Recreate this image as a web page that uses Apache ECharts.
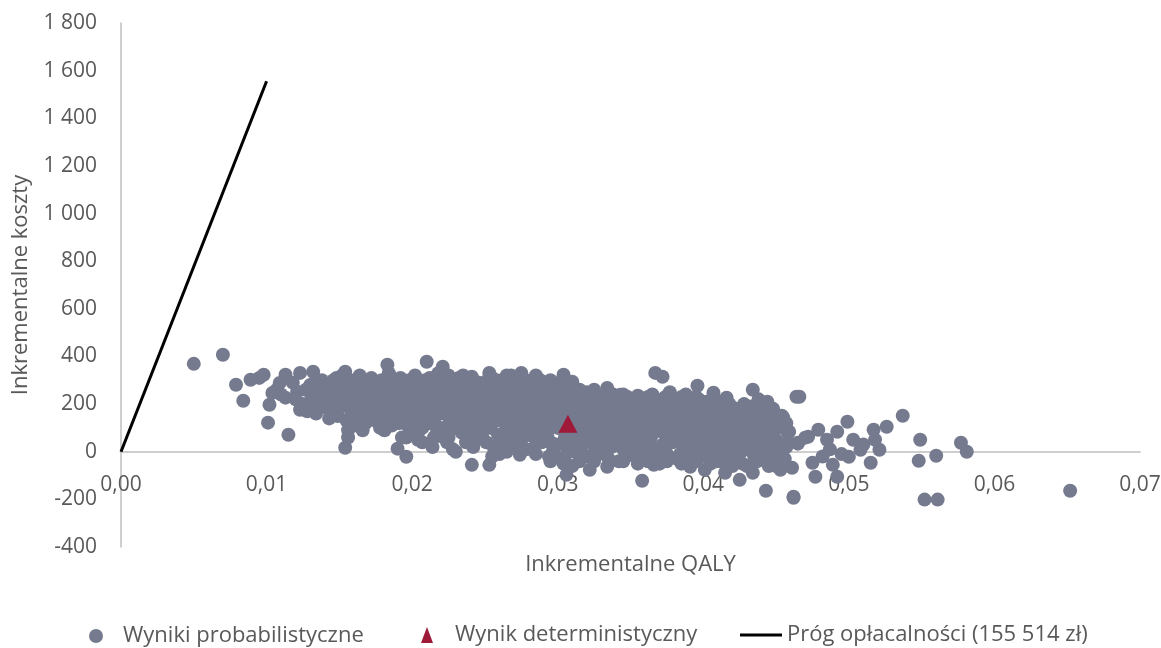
<!DOCTYPE html>
<html>
<head>
<meta charset="utf-8">
<script src="https://cdn.jsdelivr.net/npm/echarts@6/dist/echarts.min.js"></script>
<style>
html,body{margin:0;padding:0;background:#fff;}
#chart{width:1161px;height:648px;}
</style>
</head>
<body>
<div id="chart"></div>
<script>
// ---- Data ----
const seriesNames = ['Wyniki probabilistyczne', 'Wynik deterministyczny', 'Próg opłacalności (155 514 zł)'];
const xTickLabels = ['0,00','0,01','0,02','0,03','0,04','0,05','0,06','0,07'];
const yTickLabels = ['-400','-200','0','200','400','600','800','1 000','1 200','1 400','1 600','1 800'];

const probabilisticA = [
 [0.0050,369],[0.0070,407],[0.0079,281],[0.0084,214],[0.0089,302],[0.0095,310],[0.0098,323],[0.0101,122],
 [0.0102,197],[0.0104,247],[0.0107,260],[0.0109,289],[0.0113,323],[0.0113,227],[0.0115,71],[0.0110,240],
 [0.0118,290],[0.0121,252],[0.0123,331],[0.0123,176],[0.0125,200],[0.0127,260],[0.0120,220],[0.0128,170],
 [0.0131,230],[0.0132,336],[0.0132,231],[0.0133,190],[0.0135,250],[0.0137,205],[0.0139,270],[0.0134,160],[0.0138,300],
 [0.0141,240],[0.0143,180],[0.0145,290],[0.0147,220],[0.0149,150],[0.0142,265],[0.0146,195],[0.0148,310],
 [0.0151,250],[0.0153,200],[0.0155,130],[0.0157,280],[0.0159,230],[0.0152,320],[0.0156,90],[0.0154,336],[0.0158,170],[0.0154,17],[0.0156,60],
 [0.0161,210],[0.0163,260],[0.0165,150],[0.0167,300],[0.0169,190],[0.0162,110],[0.0166,240],[0.0168,120],[0.0164,320],
 [0.0171,230],[0.0173,170],[0.0175,280],[0.0177,200],[0.0179,140],[0.0172,310],[0.0176,250],[0.0178,100],[0.0174,210],
 [0.0181,260],[0.0183,365],[0.0185,190],[0.0187,300],[0.0189,150],[0.0182,220],[0.0186,110],[0.0188,240],[0.0184,330],[0.0180,170],
 [0.0190,13],[0.0196,-21],[0.0191,200],[0.0193,270],[0.0195,140],[0.0197,230],[0.0199,90],[0.0192,310],[0.0194,180],[0.0198,260],[0.0196,60],
 [0.0201,210],[0.0203,150],[0.0205,280],[0.0207,100],[0.0209,240],[0.0202,320],[0.0204,50],[0.0206,190],[0.0208,130],[0.0200,260],
 [0.0210,378],[0.0211,230],[0.0213,170],[0.0215,300],[0.0217,80],[0.0219,250],[0.0212,120],[0.0214,20],[0.0216,200],[0.0218,330],[0.0213,270],
 [0.0221,357],[0.0221,190],[0.0223,240],[0.0225,60],[0.0227,300],[0.0229,140],[0.0222,100],[0.0224,270],[0.0226,210],[0.0228,10],[0.0220,160],
 [0.0231,220],[0.0233,280],[0.0235,120],[0.0237,180],[0.0239,40],[0.0232,310],[0.0234,80],[0.0236,250],[0.0238,150],[0.0230,0],[0.0235,200],
 [0.0241,315],[0.0241,-55],[0.0243,230],[0.0245,160],[0.0247,90],[0.0249,270],[0.0242,20],[0.0244,190],[0.0246,290],[0.0248,120],[0.0240,60],[0.0245,230],
 [0.0253,331],[0.0253,-55],[0.0251,210],[0.0255,140],[0.0257,260],[0.0259,70],[0.0252,170],[0.0254,240],[0.0256,20],[0.0258,300],[0.0250,110],[0.0257,190],
 [0.0261,230],[0.0263,160],[0.0265,290],[0.0267,90],[0.0269,200],[0.0262,40],[0.0264,260],[0.0266,120],[0.0268,320],[0.0260,-10],[0.0265,180],
 [0.0275,331],[0.0274,-13],[0.0271,250],[0.0273,180],[0.0277,110],[0.0279,220],[0.0272,60],[0.0276,280],[0.0278,150],[0.0270,200],[0.0273,20],[0.0278,300],
 [0.0281,230],[0.0283,140],[0.0285,270],[0.0287,80],[0.0289,190],[0.0282,10],[0.0284,210],[0.0286,300],[0.0288,120],[0.0280,160],[0.0285,50],
 [0.0291,240],[0.0293,170],[0.0295,100],[0.0297,260],[0.0299,30],[0.0292,290],[0.0294,-20],[0.0296,200],[0.0298,130],[0.0290,70],[0.0295,220],
 [0.0304,323],[0.0301,230],[0.0303,150],[0.0305,60],[0.0307,190],[0.0309,260],[0.0302,-30],[0.0306,110],[0.0308,10],[0.0300,200],[0.0306,-97],[0.0304,-50],
 [0.0310,294],[0.0311,210],[0.0313,140],[0.0315,70],[0.0317,240],[0.0319,-20],[0.0312,170],[0.0314,30],[0.0316,200],[0.0318,110],[0.0310,-60],
 [0.0322,-76],[0.0321,220],[0.0323,150],[0.0325,80],[0.0327,190],[0.0329,20],[0.0320,250],[0.0324,-30],[0.0326,120],[0.0328,230],[0.0322,50],
 [0.0334,268],[0.0334,-63],[0.0331,180],[0.0333,100],[0.0335,30],[0.0337,210],[0.0339,140],[0.0332,-10],[0.0336,60],[0.0338,240],[0.0330,160],
 [0.0343,239],[0.0341,170],[0.0343,90],[0.0345,10],[0.0347,200],[0.0349,130],[0.0342,-40],[0.0346,50],[0.0348,230],[0.0340,120],[0.0344,180],
 [0.0355,235],[0.0351,160],[0.0353,80],[0.0355,-30],[0.0357,190],[0.0359,110],[0.0352,20],[0.0354,210],[0.0356,140],[0.0358,50],[0.0350,-10],
 [0.0358,-122],[0.0366,-55],[0.0361,170],[0.0363,100],[0.0365,20],[0.0367,210],[0.0369,130],[0.0362,-40],[0.0364,60],[0.0368,190],[0.0360,220],
 [0.0367,331],[0.0372,315],[0.0371,150],[0.0373,80],[0.0375,-10],[0.0377,200],[0.0379,120],[0.0372,30],[0.0374,230],[0.0376,170],[0.0378,60],[0.0370,-50],
 [0.0381,160],[0.0383,90],[0.0385,210],[0.0387,20],[0.0389,130],[0.0382,-30],[0.0384,180],[0.0386,60],[0.0388,240],[0.0380,110],
 [0.0396,277],[0.0391,-63],[0.0391,140],[0.0393,70],[0.0395,190],[0.0397,0],[0.0399,110],[0.0392,220],[0.0394,40],[0.0398,160],[0.0390,200],
 [0.0401,-76],[0.0407,248],[0.0401,130],[0.0403,60],[0.0405,180],[0.0407,-20],[0.0409,100],[0.0402,210],[0.0404,20],[0.0406,140],[0.0408,40],
 [0.0416,227],[0.0415,-88],[0.0411,120],[0.0413,50],[0.0415,160],[0.0417,-30],[0.0419,90],[0.0412,190],[0.0414,0],[0.0418,130],[0.0410,70],
 [0.0425,-118],[0.0421,100],[0.0423,30],[0.0425,150],[0.0427,-50],[0.0429,70],[0.0422,180],[0.0424,-10],[0.0426,110],[0.0428,200],[0.0420,40],
 [0.0434,260],[0.0434,-88],[0.0431,90],[0.0433,20],[0.0435,140],[0.0437,-40],[0.0439,60],[0.0432,170],[0.0436,110],[0.0438,220],[0.0430,-60],
 [0.0444,210],[0.0443,-164],[0.0446,-46],[0.0449,-21],[0.0441,80],[0.0443,140],[0.0445,30],[0.0447,110],[0.0442,-10],[0.0448,60],[0.0440,180],
 [0.0454,151],[0.0455,143],[0.0458,80],[0.0459,84],[0.0453,-76],[0.0461,-67],[0.0462,-189],[0.0462,-193],[0.0464,231],[0.0466,231],
 [0.0465,34],[0.0465,38],[0.0470,59],[0.0472,63],[0.0475,-46],[0.0477,-105],[0.0479,92],[0.0485,50],[0.0489,-55],[0.0492,84],
 [0.0492,-105],[0.0499,126],[0.0500,-21],[0.0503,50],[0.0508,8],[0.0515,-46],[0.0517,92],[0.0521,8],[0.0526,105],[0.0537,151],
 [0.0548,-38],[0.0549,50],[0.0552,-201],[0.0560,-17],[0.0561,-201],[0.0577,38],[0.0581,0],[0.0652,-164],[0.0451,100],[0.0457,20],
 [0.0450,-60],[0.0487,10],[0.0495,-10],[0.0482,-20],[0.0510,30],[0.0518,50]
];
const probabilisticB = [
 [0.0130,280],[0.0136,180],[0.0139,220],[0.0134,300],
 [0.0140,200],[0.0144,260],[0.0148,170],[0.0146,300],[0.0143,140],
 [0.0150,190],[0.0153,270],[0.0157,210],[0.0159,110],[0.0151,300],[0.0155,240],[0.0158,300],
 [0.0160,280],[0.0163,180],[0.0165,230],[0.0168,270],[0.0169,140],[0.0161,150],[0.0166,90],
 [0.0170,260],[0.0172,190],[0.0175,130],[0.0177,240],[0.0179,300],[0.0174,290],[0.0171,150],
 [0.0180,210],[0.0182,290],[0.0185,250],[0.0187,160],[0.0189,200],[0.0183,130],[0.0186,310],[0.0181,90],
 [0.0190,240],[0.0192,150],[0.0194,290],[0.0195,220],[0.0197,110],[0.0199,180],[0.0191,120],[0.0198,300],[0.0193,60],
 [0.0200,180],[0.0201,290],[0.0203,230],[0.0205,90],[0.0206,250],[0.0208,170],[0.0209,300],[0.0202,120],[0.0207,40],
 [0.0210,140],[0.0211,290],[0.0213,220],[0.0215,60],[0.0216,250],[0.0218,160],[0.0219,100],[0.0212,310],[0.0217,200],
 [0.0220,250],[0.0221,300],[0.0223,170],[0.0224,40],[0.0226,130],[0.0227,220],[0.0229,270],[0.0222,60],[0.0228,180],
 [0.0230,150],[0.0231,260],[0.0233,100],[0.0234,200],[0.0236,300],[0.0237,40],[0.0239,230],[0.0232,170],[0.0238,100],
 [0.0240,250],[0.0241,110],[0.0243,280],[0.0244,50],[0.0246,150],[0.0247,210],[0.0249,190],[0.0242,300],[0.0248,70],
 [0.0250,270],[0.0251,40],[0.0253,200],[0.0254,100],[0.0256,280],[0.0257,130],[0.0259,230],[0.0252,300],[0.0258,170],
 [0.0260,250],[0.0261,130],[0.0263,80],[0.0264,200],[0.0266,290],[0.0267,170],[0.0269,240],[0.0262,300],[0.0268,40],
 [0.0270,100],[0.0271,290],[0.0273,230],[0.0274,140],[0.0276,60],[0.0277,190],[0.0279,270],[0.0272,210],[0.0278,10],
 [0.0280,260],[0.0281,90],[0.0283,190],[0.0284,280],[0.0286,160],[0.0287,240],[0.0289,40],[0.0282,130],[0.0288,300],
 [0.0290,290],[0.0291,130],[0.0293,60],[0.0294,230],[0.0296,150],[0.0297,10],[0.0299,200],[0.0292,100],[0.0298,270],
 [0.0300,100],[0.0301,290],[0.0303,220],[0.0304,30],[0.0305,140],[0.0307,250],[0.0309,60],[0.0302,170],[0.0308,200],
 [0.0310,140],[0.0311,260],[0.0313,190],[0.0314,90],[0.0316,150],[0.0317,30],[0.0319,220],[0.0312,0],[0.0318,60],
 [0.0320,180],[0.0321,100],[0.0323,240],[0.0324,40],[0.0326,200],[0.0327,130],[0.0329,160],[0.0325,-40],[0.0328,80],
 [0.0330,220],[0.0331,60],[0.0333,200],[0.0334,130],[0.0336,240],[0.0337,20],[0.0339,90],[0.0332,150],[0.0338,180],
 [0.0340,210],[0.0341,30],[0.0343,150],[0.0344,90],[0.0346,210],[0.0347,-20],[0.0349,180],[0.0342,110],[0.0348,70],
 [0.0350,200],[0.0351,60],[0.0353,140],[0.0354,20],[0.0356,230],[0.0357,90],[0.0359,170],[0.0352,190],[0.0358,0],
 [0.0360,160],[0.0361,40],[0.0363,190],[0.0364,130],[0.0366,80],[0.0367,-10],[0.0369,200],[0.0362,230],[0.0368,100],
 [0.0370,190],[0.0371,90],[0.0373,160],[0.0374,0],[0.0376,110],[0.0377,250],[0.0379,40],[0.0372,220],[0.0378,170],
 [0.0380,200],[0.0381,50],[0.0383,150],[0.0384,-10],[0.0386,120],[0.0387,180],[0.0389,80],[0.0382,220],[0.0388,0],
 [0.0390,130],[0.0391,180],[0.0393,10],[0.0394,150],[0.0396,80],[0.0397,220],[0.0399,50],[0.0392,100],[0.0398,-20],
 [0.0400,170],[0.0401,0],[0.0403,120],[0.0404,200],[0.0406,60],[0.0407,160],[0.0409,-40],[0.0402,90],[0.0408,220],
 [0.0410,150],[0.0411,20],[0.0413,190],[0.0414,100],[0.0416,50],[0.0417,170],[0.0419,-10],[0.0412,-40],[0.0418,200],
 [0.0420,130],[0.0421,-30],[0.0423,160],[0.0424,60],[0.0426,0],[0.0427,120],[0.0429,180],[0.0422,0],[0.0428,30],
 [0.0430,140],[0.0431,40],[0.0433,190],[0.0434,0],[0.0436,60],[0.0437,120],[0.0439,-10],[0.0432,100],[0.0438,160],
 [0.0440,110],[0.0441,-30],[0.0443,50],[0.0444,160],[0.0446,90],[0.0447,0],[0.0449,130],[0.0442,20],[0.0448,180],
 [0.0450,50],[0.0452,0],[0.0454,110],[0.0456,-30],[0.0458,40],[0.0451,150],[0.0457,120]
];
const probabilisticC = [
 [0.0135,215],[0.0145,225],[0.0150,270],[0.0160,180],[0.0170,180],[0.0175,240],[0.0180,290],[0.0185,220],
 [0.0190,280],[0.0195,250],[0.0200,140],[0.0205,220],[0.0210,190],[0.0215,130],[0.0220,220],[0.0225,160],
 [0.0230,100],[0.0235,260],[0.0240,140],[0.0245,60],[0.0250,160],[0.0255,210],[0.0260,60],[0.0265,130],
 [0.0270,150],[0.0275,240],[0.0280,70],[0.0285,180],[0.0290,110],[0.0295,40],[0.0300,260],[0.0305,100],
 [0.0310,100],[0.0315,0],[0.0320,120],[0.0325,200],[0.0330,0],[0.0335,160],[0.0340,60],[0.0345,130],
 [0.0350,100],[0.0355,170],[0.0360,0],[0.0365,150],[0.0370,100],[0.0375,40],[0.0380,140],[0.0385,40],
 [0.0390,-30],[0.0395,120],[0.0400,90],[0.0405,-50],[0.0410,-10],[0.0415,110],[0.0420,-60],[0.0425,60],
 [0.0430,10],[0.0435,-20],[0.0440,30],[0.0445,-60],
 [0.0255,-20],[0.0265,0],[0.0275,20],[0.0285,-10],[0.0295,-40],[0.0305,-20],[0.0315,-40],[0.0325,0],
 [0.0335,-30],[0.0345,-40],[0.0355,-50],[0.0365,-30],[0.0375,-40],[0.0385,-50],[0.0395,-40],
 [0.0225,320],[0.0235,320],[0.0255,310],[0.0265,320],[0.0285,320],[0.0295,300],[0.0305,300],[0.0315,260],
 [0.0325,260],[0.0335,250],[0.0345,240],[0.0355,215],[0.0365,240],[0.0375,220],[0.0385,230],[0.0395,230],
 [0.0405,210],[0.0415,200],[0.0425,180]
];
const deterministic = [[0.0307,117]];
const threshold = [[0,0],[0.01,1555.14]];

// ---- Chart ----
const FONT = 'Open Sans';
const TXT = '#595959';
const chart = echarts.init(document.getElementById('chart'));
const legendBase = {orient: 'horizontal', selectedMode: false};
chart.setOption({
  animation: false,
  backgroundColor: '#fff',
  grid: {left: 121, right: 21, top: 23, bottom: 101, containLabel: false, outerBoundsMode: 'none'},
  legend: [
    Object.assign({}, legendBase, {left: 84, top: 620, itemWidth: 14, itemHeight: 14, data: [seriesNames[0]],
      textStyle: {fontFamily: FONT, fontSize: 22, color: TXT, padding: [0,0,0,15]}}),
    Object.assign({}, legendBase, {left: 416, top: 619, itemWidth: 12, itemHeight: 16, data: [seriesNames[1]],
      textStyle: {fontFamily: FONT, fontSize: 22, color: TXT, padding: [0,0,0,17]}}),
    Object.assign({}, legendBase, {left: 735, top: 619, itemWidth: 42, itemHeight: 3,
      data: [{name: seriesNames[2], icon: 'rect'}],
      textStyle: {fontFamily: FONT, fontSize: 22, color: TXT}})
  ],
  xAxis: {
    type: 'value', min: 0, max: 0.07, interval: 0.01,
    name: 'Inkrementalne QALY', nameLocation: 'middle', nameGap: 7,
    nameTextStyle: {fontFamily: FONT, fontSize: 22, color: TXT},
    axisLine: {onZero: true, lineStyle: {color: '#BFBFBF', width: 1.5}},
    axisTick: {show: false},
    splitLine: {show: false},
    axisLabel: {fontFamily: FONT, fontSize: 21, color: TXT, margin: -72,
      formatter: (v, i) => xTickLabels[i]}
  },
  yAxis: {
    type: 'value', min: -400, max: 1800, interval: 200,
    name: 'Inkrementalne koszty', nameLocation: 'middle', nameGap: 89,
    nameTextStyle: {fontFamily: FONT, fontSize: 22, color: TXT},
    axisLine: {show: true, lineStyle: {color: '#BFBFBF', width: 1.5}},
    axisTick: {show: false},
    splitLine: {show: false},
    axisLabel: {fontFamily: FONT, fontSize: 21, color: TXT, margin: 24,
      formatter: (v, i) => yTickLabels[i]}
  },
  series: [
    {name: seriesNames[0], type: 'scatter', data: probabilisticA.concat(probabilisticB, probabilisticC), symbol: 'circle', symbolSize: 14,
     itemStyle: {color: '#757A8E', opacity: 1}, z: 2},
    {name: seriesNames[1], type: 'scatter', data: deterministic, symbol: 'triangle', symbolSize: [19, 18],
     itemStyle: {color: '#9E1A38', opacity: 1}, z: 4},
    {name: seriesNames[2], type: 'line', data: threshold, showSymbol: false, symbol: 'none',
     lineStyle: {color: '#000', width: 3}, itemStyle: {color: '#000'}, z: 3}
  ]
});
</script>
</body>
</html>
